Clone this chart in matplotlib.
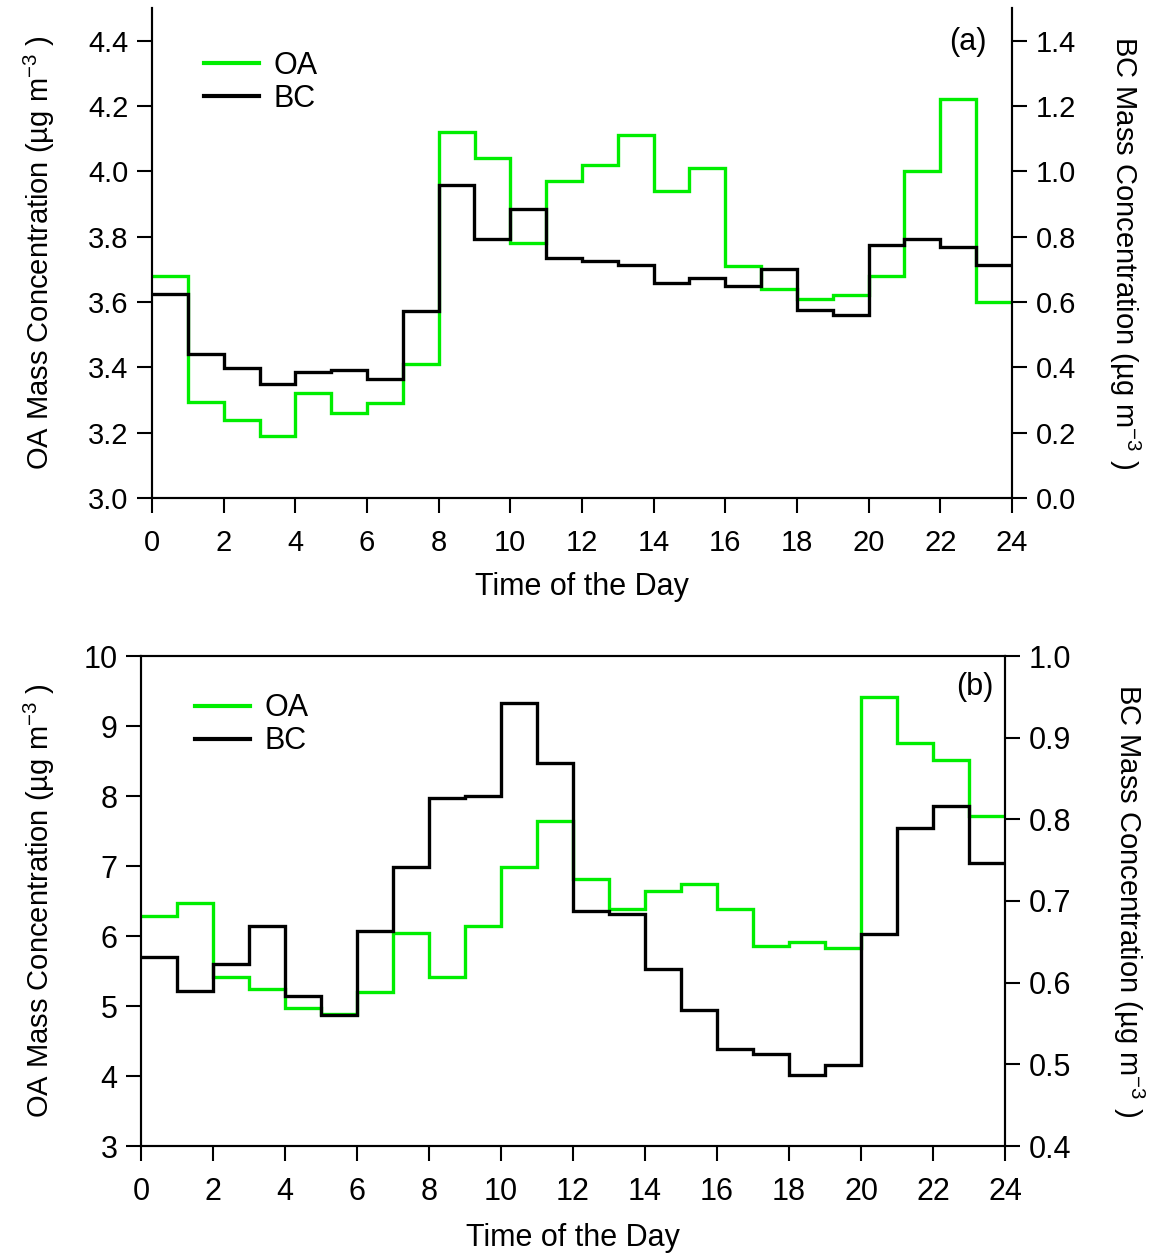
import numpy as np
import matplotlib
matplotlib.use("Agg")
import matplotlib.pyplot as plt

plt.rcParams['font.family'] = ['Liberation Sans', 'DejaVu Sans']
plt.rcParams['mathtext.default'] = 'regular'

hours = np.arange(25)

# (a)
oa_a = [3.68, 3.295, 3.24, 3.19, 3.32, 3.26, 3.29, 3.41, 4.12, 4.04, 3.78, 3.97,
        4.02, 4.11, 3.94, 4.01, 3.71, 3.64, 3.61, 3.62, 3.68, 4.00, 4.22, 3.60]
bc_a = [0.625, 0.442, 0.397, 0.348, 0.387, 0.392, 0.364, 0.573, 0.958, 0.794, 0.884, 0.734,
        0.727, 0.713, 0.658, 0.674, 0.650, 0.702, 0.575, 0.559, 0.774, 0.793, 0.769, 0.713]

# (b)
oa_b = [6.29, 6.47, 5.41, 5.25, 4.97, 4.88, 5.20, 6.04, 5.42, 6.14, 6.99, 7.65,
        6.82, 6.38, 6.65, 6.75, 6.38, 5.86, 5.92, 5.83, 9.42, 8.76, 8.51, 7.71]
bc_b = [0.631, 0.590, 0.623, 0.669, 0.584, 0.560, 0.663, 0.742, 0.826, 0.828, 0.942, 0.869,
        0.688, 0.684, 0.617, 0.567, 0.519, 0.513, 0.487, 0.499, 0.660, 0.790, 0.816, 0.746]

green = '#00ee00'
lw = 2.4
oa_label = 'OA Mass Concentration (µg m$^{-3}$ )'
bc_label = 'BC Mass Concentration (µg m$^{-3}$ )'
lab_fs = 21

fig = plt.figure(figsize=(11.58, 12.56), dpi=100)


def style_axis(ax, fs):
    for s in ax.spines.values():
        s.set_linewidth(1.5)
    ax.tick_params(direction='out', length=11, width=1.5, labelsize=fs, pad=6)
    ax.tick_params(axis='x', pad=11)


# ---- panel (a)
ax1 = fig.add_axes([152/1158, 1-498/1256, 860/1158, 490/1256])
ax1.stairs(oa_a, hours, baseline=None, color=green, lw=lw, label='OA')
ax1.set_xlim(0, 24)
ax1.set_ylim(3.0, 4.5)
ax1.set_yticks(np.arange(3.0, 4.41, 0.2))
ax1.set_yticklabels([f'{v:.1f}' for v in np.arange(3.0, 4.41, 0.2)])
ax1.set_xticks(np.arange(0, 25, 2))
ax1.set_xlabel('Time of the Day', fontsize=22, labelpad=11)
ax1.set_ylabel(oa_label, fontsize=lab_fs, labelpad=22)
ax1.spines['top'].set_visible(False)
style_axis(ax1, 21)

ax2 = ax1.twinx()
ax2.stairs(bc_a, hours, baseline=None, color='black', lw=lw, label='BC')
ax2.set_ylim(0.0, 1.5)
ax2.set_yticks(np.arange(0, 1.41, 0.2))
ax2.set_yticklabels([f'{v:.1f}' for v in np.arange(0, 1.41, 0.2)])
ax2.set_ylabel(bc_label, fontsize=lab_fs, rotation=270, labelpad=48)
ax2.spines['top'].set_visible(False)
style_axis(ax2, 21)

h1, l1 = ax1.get_legend_handles_labels()
h2, l2 = ax2.get_legend_handles_labels()
leg = ax2.legend(h1 + h2, l1 + l2, loc='upper left', bbox_to_anchor=(0.06, 0.912),
                 frameon=False, fontsize=22, handlelength=1.8, handletextpad=0.5,
                 labelspacing=0.1, borderpad=0, borderaxespad=0)
for ln in leg.get_lines():
    ln.set_linewidth(3)
ax2.text(0.949, 0.93, '(a)', transform=ax2.transAxes, fontsize=22,
         ha='center', va='center')

# ---- panel (b)
ax3 = fig.add_axes([141/1158, 1-1146/1256, 864/1158, 490/1256])
ax3.stairs(oa_b, hours, baseline=None, color=green, lw=lw, label='OA')
ax3.set_xlim(0, 24)
ax3.set_ylim(3, 10)
ax3.set_yticks(np.arange(3, 11, 1))
ax3.set_xticks(np.arange(0, 25, 2))
ax3.set_xlabel('Time of the Day', fontsize=22, labelpad=12)
ax3.set_ylabel(oa_label, fontsize=lab_fs, labelpad=19)
style_axis(ax3, 22)

ax4 = ax3.twinx()
ax4.stairs(bc_b, hours, baseline=None, color='black', lw=lw, label='BC')
ax4.set_ylim(0.4, 1.0)
ax4.set_yticks(np.arange(0.4, 1.01, 0.1))
ax4.set_yticklabels([f'{v:.1f}' for v in np.arange(0.4, 1.01, 0.1)])
ax4.set_ylabel(bc_label, fontsize=lab_fs, rotation=270, labelpad=54)
style_axis(ax4, 22)

h3, l3 = ax3.get_legend_handles_labels()
h4, l4 = ax4.get_legend_handles_labels()
leg = ax4.legend(h3 + h4, l3 + l4, loc='upper left', bbox_to_anchor=(0.062, 0.924),
                 frameon=False, fontsize=22, handlelength=1.8, handletextpad=0.5,
                 labelspacing=0.1, borderpad=0, borderaxespad=0)
for ln in leg.get_lines():
    ln.set_linewidth(3)
ax4.text(0.965, 0.937, '(b)', transform=ax4.transAxes, fontsize=22,
         ha='center', va='center')

fig.savefig('out.png', dpi=100)
